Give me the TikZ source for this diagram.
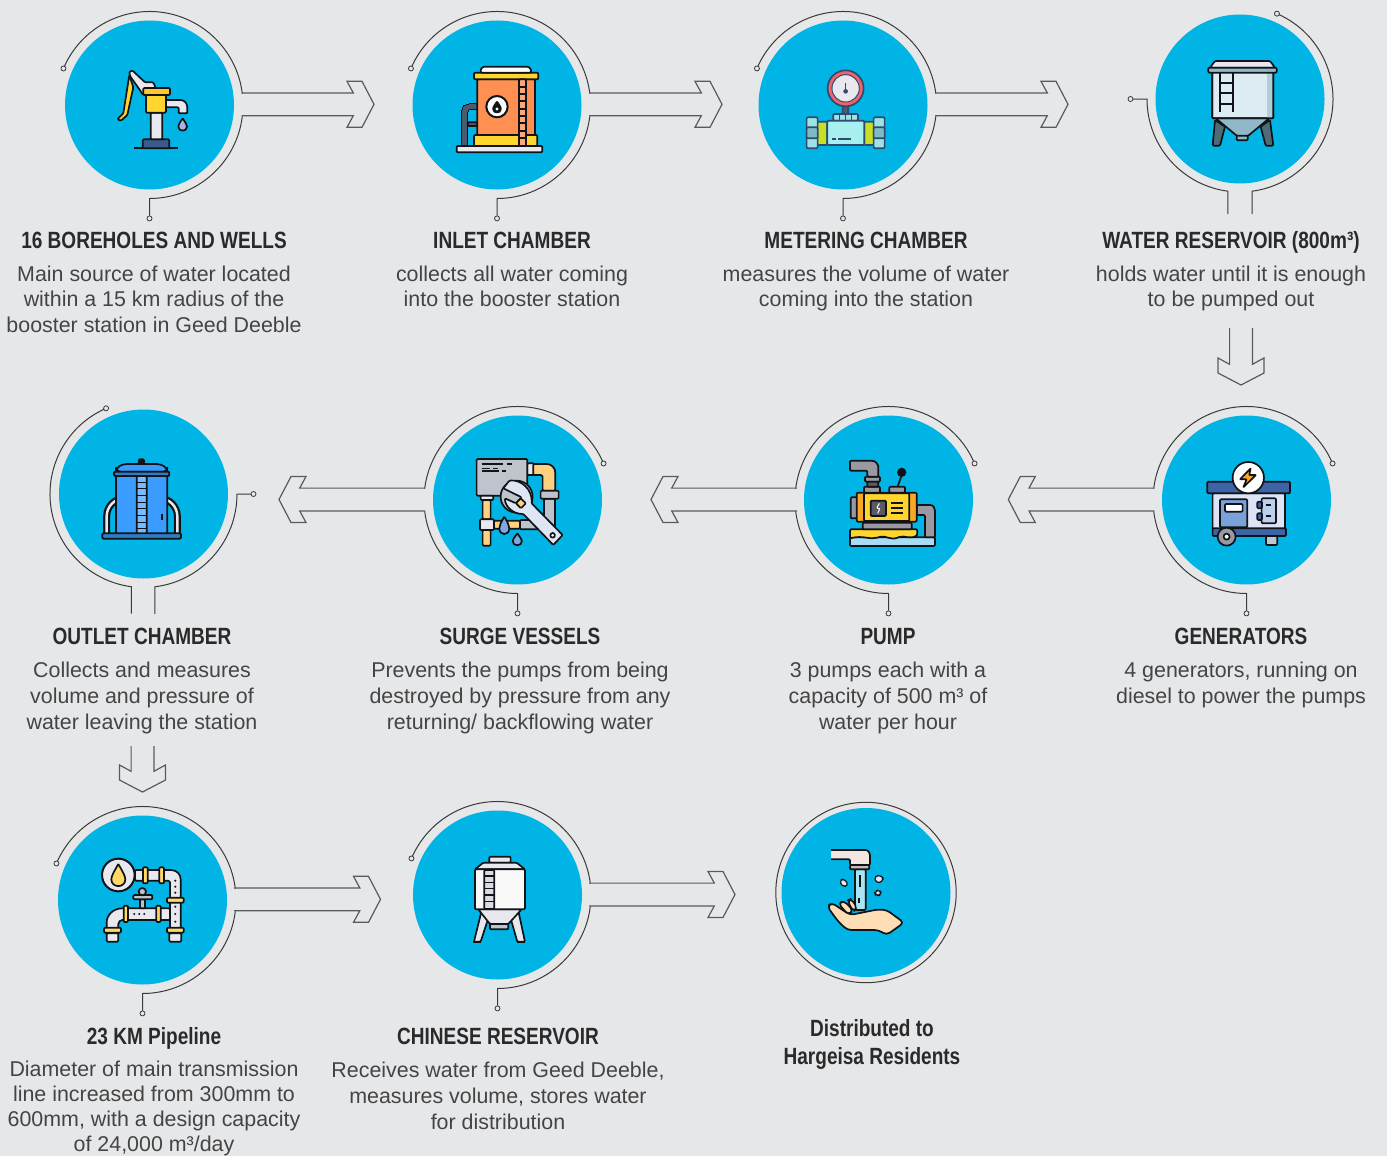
\documentclass[tikz,border=0pt]{standalone}
\usepackage{fontspec}
\setmainfont{Liberation Sans}
\newfontfamily\headfont[FakeStretch=0.81]{Liberation Sans}
\usetikzlibrary{calc}
\definecolor{pagegrey}{HTML}{E6E7E9}
\definecolor{discblue}{HTML}{00B5E5}
\definecolor{ringgrey}{HTML}{3A3A3A}
\definecolor{flowgrey}{HTML}{5A5A5A}
\definecolor{headgrey}{HTML}{2A2A2A}
\definecolor{bodygrey}{HTML}{444444}
\definecolor{inkblack}{HTML}{101418}
\definecolor{inknavy}{HTML}{2F4A6E}
\definecolor{HeadPump}{HTML}{3B5A8C}
\definecolor{PaleGrey}{HTML}{E8E8EE}
\definecolor{PumpYellow}{HTML}{FFD52E}
\definecolor{PumpGold}{HTML}{FFC72C}
\definecolor{DropBlue}{HTML}{A4B4E8}
\definecolor{PipeSlate}{HTML}{4A5A70}
\definecolor{TankOrange}{HTML}{FF9052}
\definecolor{GaugeRed}{HTML}{F0636A}
\definecolor{MeterTeal}{HTML}{9BE3E6}
\definecolor{MeterLime}{HTML}{C9DF24}
\definecolor{MeterAqua}{HTML}{A8F0F0}
\definecolor{MeterDeep}{HTML}{7DBCC4}
\definecolor{LegSlate}{HTML}{4F6B78}
\definecolor{ConeSteel}{HTML}{8FB8C8}
\definecolor{TankIce}{HTML}{DDEBF2}
\definecolor{PipeAmber}{HTML}{FFD080}
\definecolor{BoxGrey}{HTML}{BFC3CC}
\definecolor{WrenchPale}{HTML}{DDE6F2}
\definecolor{DropDeep}{HTML}{7FA8E0}
\definecolor{TankBlue}{HTML}{3B9CFF}
\definecolor{PaleBlueDark}{HTML}{2E7CC4}
\definecolor{WaterPale}{HTML}{A8DCF4}
\definecolor{PipeGrey}{HTML}{9A98A0}
\definecolor{EngineAmber}{HTML}{F9A825}
\definecolor{PipeDark}{HTML}{5A5A60}
\definecolor{GenPale}{HTML}{DCE4F6}
\definecolor{GenMid}{HTML}{7BA2D8}
\definecolor{GenRoof}{HTML}{3E64A8}
\definecolor{PipeAmberLt}{HTML}{FFD966}
\definecolor{WaterAqua}{HTML}{A5E6F2}
\definecolor{TapShade}{HTML}{C9B8B8}
\definecolor{TapPale}{HTML}{F3E6E2}
\definecolor{HandPeach}{HTML}{FFDDB5}
\tikzset{
  disc/.style={circle,fill=discblue,minimum size=169pt,inner sep=0pt},
  ring/.style={draw=ringgrey,line width=1pt},
  flow/.style={draw=flowgrey,line width=1.2pt,line join=miter},
  tapdot/.style={circle,draw=ringgrey,fill=pagegrey,line width=0.8pt,minimum size=5pt,inner sep=0pt},
  head/.style={font=\headfont\bfseries\fontsize{23.5}{28}\selectfont,text=headgrey,align=center,inner sep=0pt,anchor=base},
  body/.style={font=\fontsize{21.4}{25.7}\selectfont,text=bodygrey,align=center,inner sep=0pt,anchor=north},
  ic/.style={draw=inkblack,line width=1.7pt,line join=round,rounded corners=1pt},
  zoomat/.style 2 args={shift={(#1,-#2)},xscale=0.3333,yscale=-0.3333}
}
% filled box of an icon
\newcommand{\bx}[3]{\draw[ic,fill=#1] (#2) rectangle (#3);}
% arrow with tip at #1, length #2, turned by #3
\newcommand{\flowarrow}[3]{\draw[flow,shift={(#1)},rotate=#3] (-#2,11.4) -- (-20.7,11.4) -- (-27,23) -- (-12,23) -- (0,0) -- (-12,-23) -- (-27,-23) -- (-20.7,-11.4) -- (-#2,-11.4);}
% ring opening to the right, tail going down
\newcommand{\ringright}[1]{
  \draw[ring] ($(#1)+(157:93.5)$) node[tapdot]{} arc (157:7:93.5);
  \draw[ring] ($(#1)+(-7:93.5)$) arc (-7:-90:93.5) -- ++(0,-17) node[tapdot,anchor=north]{};
}
% ring opening to the left, tail going down
\newcommand{\ringleft}[1]{
  \draw[ring] ($(#1)+(23:93.5)$) node[tapdot]{} arc (23:173:93.5);
  \draw[ring] ($(#1)+(187:93.5)$) arc (187:270:93.5) -- ++(0,-17) node[tapdot,anchor=north]{};
}
\begin{document}
\begin{tikzpicture}[x=1pt,y=1pt]
\useasboundingbox (0,-1156) rectangle (1387,0);
\fill[pagegrey] (0,-1156) rectangle (1387,0);

% discs
\node[disc] (bore) at (149.5,-105) {};
\node[disc] (inlet) at (497,-105) {};
\node[disc] (meter) at (843,-105) {};
\node[disc] (tank) at (1240,-99) {};
\node[disc] (gens) at (1246.5,-500) {};
\node[disc] (pump) at (888.5,-500) {};
\node[disc] (surge) at (517.5,-500) {};
\node[disc] (outlet) at (143.5,-494) {};
\node[disc] (pipe) at (142.5,-900) {};
\node[disc] (china) at (497.5,-895) {};
\node[disc] (hand) at (866,-892.5) {};

% rings
\ringright{bore}
\ringright{inlet}
\ringright{meter}
\ringright{pipe}
\ringright{china}
\ringleft{gens}
\ringleft{pump}
\ringleft{surge}
\draw[ring] ($(tank)+(66.6:93)$) node[tapdot]{} arc (66.6:-82.5:93) -- ++(0,-23);
\draw[ring] ($(tank)+(262.5:93)+(0,-23)$) -- ++(0,23) arc (262.5:180:93) -- ++(-16.5,0) node[tapdot]{};
\draw[ring] ($(outlet)+(113.6:93.5)$) node[tapdot]{} arc (113.6:262.5:93.5) -- ++(0,-27);
\draw[ring] ($(outlet)+(277:93.5)+(0,-27)$) -- ++(0,27) arc (277:360:93.5) -- ++(16.5,0) node[tapdot]{};
\draw[ring] (hand) circle (90.2);

% arrows
\coordinate (tipA) at (374,-104.3);
\coordinate (tipB) at (722,-104.3);
\coordinate (tipC) at (1068,-104.3);
\coordinate (tipD) at (1241,-385);
\coordinate (tipE) at (1008.3,-499.5);
\coordinate (tipF) at (651,-499.5);
\coordinate (tipG) at (279,-499.5);
\coordinate (tipH) at (142.5,-792);
\coordinate (tipI) at (380.5,-899.3);
\coordinate (tipJ) at (735,-894.5);
\flowarrow{tipA}{132.3}{0}
\flowarrow{tipB}{133}{0}
\flowarrow{tipC}{133}{0}
\flowarrow{tipD}{57}{-90}
\flowarrow{tipE}{146}{180}
\flowarrow{tipF}{146}{180}
\flowarrow{tipG}{146}{180}
\flowarrow{tipH}{46}{-90}
\flowarrow{tipI}{146.5}{0}
\flowarrow{tipJ}{146}{0}

% hand pump
\begin{scope}[zoomat={40}{0}]
\draw[ic] (283,445) -- (413,445);
\bx{HeadPump}{308,418}{388,445}
\bx{PaleGrey}{332,338}{367,418}
\draw[ic,fill=PumpYellow] (268,225) -- (250,340) -- (232,358) -- (243,362) -- (262,345) -- (280,262) -- cycle;
\draw[ic,fill=PaleGrey] (268,215) -- (278,212) -- (315,247) -- (340,247) -- (347,264) -- (310,285) -- (270,228) -- cycle;
\bx{PumpYellow}{318,285}{378,338}
\bx{PumpGold}{310,264}{390,285}
\draw[ic,fill=PaleGrey] (378,300) -- (418,300) .. controls (435,300) and (442,312) .. (442,325) -- (442,340) -- (416,340) -- (416,322) -- (378,322) -- cycle;
\draw[ic,fill=DropBlue,rounded corners=0pt] (428,355) .. controls (418,370) and (415,375) .. (415,380) .. controls (415,396) and (441,396) .. (441,380) .. controls (441,375) and (438,370) .. (428,355);
\end{scope}

% inlet chamber
\begin{scope}[zoomat={420}{30}]
\draw[ic,fill=PipeSlate,line width=0pt] (125,348) -- (125,245) .. controls (125,230) and (135,222) .. (150,222) -- (172,222) -- (172,240) -- (150,240) .. controls (146,240) and (143,243) .. (143,250) -- (143,348) -- cycle;
\bx{PipeSlate}{143,277}{172,288}
\bx{TankOrange}{172,148}{345,318}
\bx{PumpYellow}{162,315}{352,348}
\bx{PaleGrey}{110,348}{367,367}
\bx{PumpYellow}{162,128}{355,148}
\draw[ic,fill=white] (182,128) -- (182,118) -- (190,110) -- (325,110) -- (333,118) -- (333,128) -- cycle;
\draw[ic,fill=TankOrange!80!white] (297,148) rectangle (318,348);
\foreach \ry in {170,192,214,236,258,280,302,324} \draw[ic] (297,\ry) -- (318,\ry);
\draw[ic,fill=white,line width=2pt] (231,230) circle (32);
\draw[ic,fill=inkblack] (231,215) .. controls (222,228) and (220,232) .. (220,236) .. controls (220,250) and (242,250) .. (242,236) .. controls (242,232) and (240,228) .. (231,215);
\fill[white] (231,237) circle (5);
\end{scope}

% metering chamber
\begin{scope}[zoomat={420}{30},ic/.append style={draw=inknavy}]
\bx{PipeSlate}{1268,228}{1285,252}
\draw[ic,fill=GaugeRed] (1277,175) circle (54);
\draw[ic,fill=PaleGrey,line width=1pt] (1277,175) circle (41);
\draw[ic] (1277,158) -- (1277,184);
\fill[inknavy] (1277,184) circle (7);
\bx{MeterTeal}{1240,252}{1314,272}
\foreach \rx in {1258,1276,1296} \draw[ic,line width=1pt] (\rx,252) -- (\rx,272);
\bx{MeterLime}{1192,275}{1222,345}
\bx{MeterLime}{1333,275}{1362,345}
\bx{MeterAqua}{1222,272}{1333,345}
\draw[ic] (1237,328) -- (1248,328) (1255,328) -- (1292,328);
\bx{MeterTeal}{1160,262}{1193,355}
\bx{MeterTeal}{1361,262}{1394,355}
\bx{MeterDeep}{1160,292}{1193,325}
\bx{MeterDeep}{1361,292}{1394,325}
\end{scope}

% water reservoir
\begin{scope}[zoomat={1120}{0}]
\draw[ic,fill=LegSlate] (285,360) -- (278,437) -- (300,437) -- (315,380) -- cycle;
\draw[ic,fill=LegSlate] (450,360) -- (460,437) -- (437,437) -- (422,380) -- cycle;
\bx{ConeSteel}{350,405}{383,421}
\draw[ic,fill=ConeSteel] (285,353) -- (450,353) -- (385,407) -- (350,407) -- cycle;
\bx{TankIce}{277,216}{460,355}
\fill[ConeSteel!70!white] (441,218) rectangle (458,353);
\draw[ic] (277,216) rectangle (460,355);
\draw[ic,fill=PaleGrey] (270,203) -- (285,183) -- (450,183) -- (465,203) -- cycle;
\bx{ConeSteel}{265,203}{470,218}
\draw[ic] (300,218) -- (300,337) (340,218) -- (340,337) (300,248) -- (340,248) (300,280) -- (340,280) (300,312) -- (340,312);
\end{scope}

% surge vessels
\begin{scope}[zoomat={90}{440}]
\bx{PaleGrey}{1312,70}{1332,105}
\draw[ic,fill=PipeAmber] (1330,72) -- (1368,72) .. controls (1385,72) and (1396,85) .. (1396,100) -- (1396,152) -- (1358,152) -- (1358,112) .. controls (1358,108) and (1355,105) .. (1350,105) -- (1330,105) -- cycle;
\bx{BoxGrey}{1362,176}{1395,262}
\bx{BoxGrey}{1352,152}{1406,176}
\bx{PipeAmber}{1178,180}{1202,238}
\bx{PipeAmber}{1178,270}{1202,317}
\bx{PipeAmber}{1212,242}{1290,266}
\bx{BoxGrey}{1290,240}{1362,268}
\bx{PaleGrey}{1170,238}{1212,270}
\bx{BoxGrey}{1160,57}{1312,167}
\bx{PaleGrey}{1172,167}{1210,180}
\draw[ic,line width=1.6pt,rounded corners=0pt] (1175,72) -- (1240,72) (1250,72) -- (1265,72) (1175,85) -- (1200,85) (1208,85) -- (1225,85) (1175,93) -- (1228,93) (1236,93) -- (1247,93);
\draw[ic,fill=BoxGrey] (1280,170) circle (48);
\draw[ic,fill=WrenchPale] (1240,145) -- (1258,122) .. controls (1295,118) and (1328,150) .. (1325,190) -- (1418,285) -- (1390,315) -- (1300,222) .. controls (1270,222) and (1245,200) .. (1245,175) -- (1278,190) -- (1295,172) -- cycle;
\draw[ic,fill=PipeAmber] (1278,190) -- (1292,175) -- (1308,190) -- (1293,205) -- cycle;
\draw[ic,fill=white] (1388,286) circle (7);
\draw[ic,fill=DropDeep,rounded corners=0pt] (1243,230) .. controls (1233,248) and (1228,255) .. (1228,265) .. controls (1228,288) and (1258,288) .. (1258,265) .. controls (1258,255) and (1253,248) .. (1243,230);
\draw[ic,fill=DropDeep,rounded corners=0pt] (1282,280) .. controls (1274,292) and (1268,298) .. (1268,303) .. controls (1268,320) and (1296,320) .. (1296,303) .. controls (1296,298) and (1290,292) .. (1282,280);
\end{scope}

% outlet chamber
\begin{scope}[zoomat={90}{440}]
\draw[ic,line width=7pt,rounded corners=18pt] (50,285) -- (50,175) -- (90,175);
\draw[PaleGrey,line width=2.5pt,rounded corners=18pt] (50,285) -- (50,175) -- (90,175);
\draw[ic,line width=7pt,rounded corners=18pt] (262,285) -- (262,175) -- (222,175);
\draw[PaleGrey,line width=2.5pt,rounded corners=18pt] (262,285) -- (262,175) -- (222,175);
\bx{TankBlue}{78,108}{232,282}
\draw[ic,fill=TankBlue!70!white] (140,108) rectangle (170,282);
\foreach \ry in {127,147,167,187,207,227,247,267} \draw[ic,line width=1pt] (140,\ry) -- (170,\ry);
\draw[ic] (217,222) -- (217,240);
\bx{PaleBlueDark}{37,280}{273,296}
\bx{inkblack}{146,58}{162,72}
\draw[ic,fill=TankBlue,rounded corners=4pt] (78,95) -- (78,85) -- (98,72) -- (212,72) -- (232,85) -- (232,95) -- cycle;
\bx{PaleBlueDark}{72,95}{238,108}
\end{scope}

% pump
\begin{scope}[zoomat={830}{440}]
\bx{WaterPale}{60,292}{315,318}
\draw[ic,fill=PipeGrey] (260,195) -- (298,195) .. controls (310,195) and (315,205) .. (315,215) -- (315,292) -- (285,292) -- (285,225) -- (260,225) -- cycle;
\draw[ic,fill=PumpYellow] (60,268) -- (262,268) -- (262,285) .. controls (240,300) and (225,285) .. (205,292) .. controls (180,302) and (170,285) .. (145,292) .. controls (120,300) and (100,285) .. (60,295) -- cycle;
\bx{PipeGrey}{98,248}{245,268}
\bx{PipeGrey}{62,172}{82,235}
\bx{EngineAmber}{80,158}{260,245}
\bx{PumpYellow}{102,160}{238,243}
\draw[ic,fill=PipeDark] (122,182) rectangle (168,228);
\draw[ic,line width=1pt,white] (148,190) -- (140,205) -- (150,205) -- (143,220);
\draw[ic] (183,188) -- (220,188) (183,203) -- (220,203) (183,218) -- (220,218);
\bx{PipeGrey}{178,140}{225,158}
\draw[ic] (203,140) -- (215,105);
\fill[inkblack] (215,97) circle (14);
\bx{PipeGrey}{102,140}{150,158}
\bx{PipeGrey}{105,110}{150,125}
\bx{PipeDark}{112,125}{145,140}
\draw[ic,fill=PipeGrey] (60,62) -- (122,62) .. controls (138,62) and (145,75) .. (145,85) -- (145,110) -- (112,110) -- (112,98) .. controls (112,94) and (110,92) .. (105,92) -- (60,92) -- cycle;
\end{scope}

% generators
\begin{scope}[zoomat={830}{440}]
\bx{GenPale}{1148,160}{1365,268}
\draw[ic,fill=GenMid] (1170,178) rectangle (1252,262);
\draw[ic,fill=white] (1185,192) rectangle (1238,215);
\bx{GenMid!50!white}{1295,175}{1338,250}
\bx{GenRoof}{1282,185}{1296,205}
\bx{GenRoof}{1282,220}{1296,240}
\draw[ic] (1308,195) -- (1322,195) (1308,228) -- (1322,228);
\bx{GenRoof}{1148,265}{1368,288}
\bx{GenPale!70!gray}{1308,288}{1342,315}
\draw[ic,fill=PipeGrey] (1190,290) circle (27);
\draw[ic,fill=white] (1190,290) circle (9);
\bx{GenRoof}{1132,125}{1380,160}
\draw[ic,fill=white] (1255,113) circle (47);
\draw[ic,fill=EngineAmber,rounded corners=0.5pt] (1262,85) -- (1230,118) -- (1250,118) -- (1240,142) -- (1278,105) -- (1258,105) -- cycle;
\end{scope}

% pipeline
\begin{scope}[zoomat={90}{840}]
\draw[ic,fill=PaleGrey] (135,90) -- (240,90) .. controls (262,90) and (272,105) .. (272,120) -- (272,285) -- (240,285) -- (240,130) .. controls (240,125) and (236,122) .. (230,122) -- (135,122) -- cycle;
\draw[ic,fill=PaleGrey] (240,205) -- (100,205) .. controls (70,205) and (50,225) .. (50,250) -- (50,285) -- (85,285) -- (85,255) .. controls (85,245) and (92,240) .. (100,240) -- (240,240) -- cycle;
\bx{PaleGrey}{50,280}{85,305}
\bx{PaleGrey}{238,280}{274,305}
\bx{PipeAmberLt}{159,82}{173,130}
\bx{PipeAmberLt}{208,82}{222,130}
\bx{PipeAmberLt}{101,197}{114,246}
\bx{PipeAmberLt}{199,197}{212,246}
\bx{PipeAmberLt}{231,173}{281,188}
\bx{PipeAmberLt}{231,263}{281,278}
\bx{PipeAmberLt}{42,263}{93,278}
\bx{BoxGrey}{150,178}{165,205}
\bx{BoxGrey}{130,165}{187,178}
\draw[ic,fill=BoxGrey] (157,155) circle (11);
\draw[ic,fill=PaleGrey,line width=2pt] (85,105) circle (49);
\draw[ic,fill=PipeAmberLt,rounded corners=0pt] (85,72) .. controls (72,95) and (64,108) .. (64,118) .. controls (64,145) and (106,145) .. (106,118) .. controls (106,108) and (98,95) .. (85,72);
\foreach \ry in {122,140,158,200,222,245} \fill[inkblack] (256,\ry) circle (3.5);
\foreach \rx in {133,148,163} \fill[inkblack] (\rx,222) circle (3.5);
\end{scope}

% chinese reservoir
\begin{scope}[zoomat={90}{840}]
\draw[ic,fill=PaleGrey] (1175,212) -- (1152,305) -- (1172,305) -- (1195,235) -- cycle;
\draw[ic,fill=PaleGrey] (1285,212) -- (1305,305) -- (1282,305) -- (1262,235) -- cycle;
\bx{BoxGrey}{1200,250}{1255,268}
\draw[ic,fill=PaleGrey] (1165,208) -- (1295,208) -- (1255,252) -- (1200,252) -- cycle;
\bx{PaleGrey}{1198,50}{1262,68}
\draw[ic,fill=PaleGrey] (1155,88) -- (1180,68) -- (1280,68) -- (1305,88) -- cycle;
\bx{white!95!gray}{1155,88}{1305,208}
\draw[ic,fill=BoxGrey!60!white] (1183,90) rectangle (1213,207);
\foreach \ry in {108,127,146,165,185} \draw[ic,line width=1.2pt] (1183,\ry) -- (1213,\ry);
\draw[ic] (1150,305) -- (1172,305) (1282,305) -- (1306,305);
\end{scope}

% tap and hand
\begin{scope}[zoomat={770}{800}]
\bx{WaterAqua}{255,208}{287,330}
\draw[ic] (270,225) -- (270,262) (267,295) -- (267,310);
\bx{TapShade}{240,195}{298,208}
\draw[ic,fill=TapPale] (183,150) -- (282,150) .. controls (295,150) and (300,158) .. (300,168) -- (300,195) -- (240,195) -- (240,178) -- (183,178);
\draw[ic,fill=HandPeach,rounded corners=4pt] (232,302) -- (244,296) -- (262,325) -- (250,335) -- cycle;
\draw[ic,fill=HandPeach,rounded corners=4pt] (205,310) -- (222,302) -- (250,332) -- (235,345) -- cycle;
\draw[ic,fill=HandPeach,rounded corners=4pt] (172,320) -- (185,308) -- (240,345) -- (325,328) -- (350,330) -- (402,368) -- (350,405) -- (325,390) -- (232,390) -- (205,365) -- cycle;
\draw[ic,line width=1.2pt,fill=PaleGrey,rounded corners=4pt] (208,240) -- (225,236) -- (236,258) -- (215,260) -- cycle;
\draw[ic,line width=1.2pt,fill=PaleGrey,rounded corners=4pt] (312,228) -- (338,226) -- (340,245) -- (318,250) -- cycle;
\draw[ic,line width=1.2pt,fill=PaleGrey,rounded corners=4pt] (312,275) -- (330,268) -- (335,285) -- (318,288) -- cycle;
\end{scope}

% titles and notes
\node[head] (boreHead) at (154,-248) {16 BOREHOLES AND WELLS};
\node[body] (boreText) at (154,-265.5) {Main source of water located\\within a 15 km radius of the\\booster station in Geed Deeble};
\node[head] (inletHead) at (512,-248) {INLET CHAMBER};
\node[body] (inletText) at (512,-265.5) {collects all water coming\\into the booster station};
\node[head] (meterHead) at (866,-248) {METERING CHAMBER};
\node[body] (meterText) at (866,-265.5) {measures the volume of water\\coming into the station};
\node[head] (tankHead) at (1231,-248) {WATER RESERVOIR (800m³)};
\node[body] (tankText) at (1231,-265.5) {holds water until it is enough\\to be pumped out};
\node[head] (outletHead) at (142,-644) {OUTLET CHAMBER};
\node[body] (outletText) at (142,-662) {Collects and measures\\volume and pressure of\\water leaving the station};
\node[head] (surgeHead) at (520,-644) {SURGE VESSELS};
\node[body] (surgeText) at (520,-662) {Prevents the pumps from being\\destroyed by pressure from any\\returning/ backflowing water};
\node[head] (pumpHead) at (888,-644) {PUMP};
\node[body] (pumpText) at (888,-662) {3 pumps each with a\\capacity of 500 m³ of\\water per hour};
\node[head] (gensHead) at (1241,-644) {GENERATORS};
\node[body] (gensText) at (1241,-662) {4 generators, running on\\diesel to power the pumps};
\node[head] (pipeHead) at (154,-1044) {23 KM Pipeline};
\node[body,font=\fontsize{21.4}{24.9}\selectfont] (pipeText) at (154,-1061) {Diameter of main transmission\\line increased from 300mm to\\600mm, with a design capacity\\of 24,000 m³/day};
\node[head] (chinaHead) at (498,-1044) {CHINESE RESERVOIR};
\node[body] (chinaText) at (498,-1062) {Receives water from Geed Deeble,\\measures volume, stores water\\for distribution};
\node[head,anchor=center] (handHead) at (872,-1044) {Distributed to\\Hargeisa Residents};
\end{tikzpicture}
\end{document}
